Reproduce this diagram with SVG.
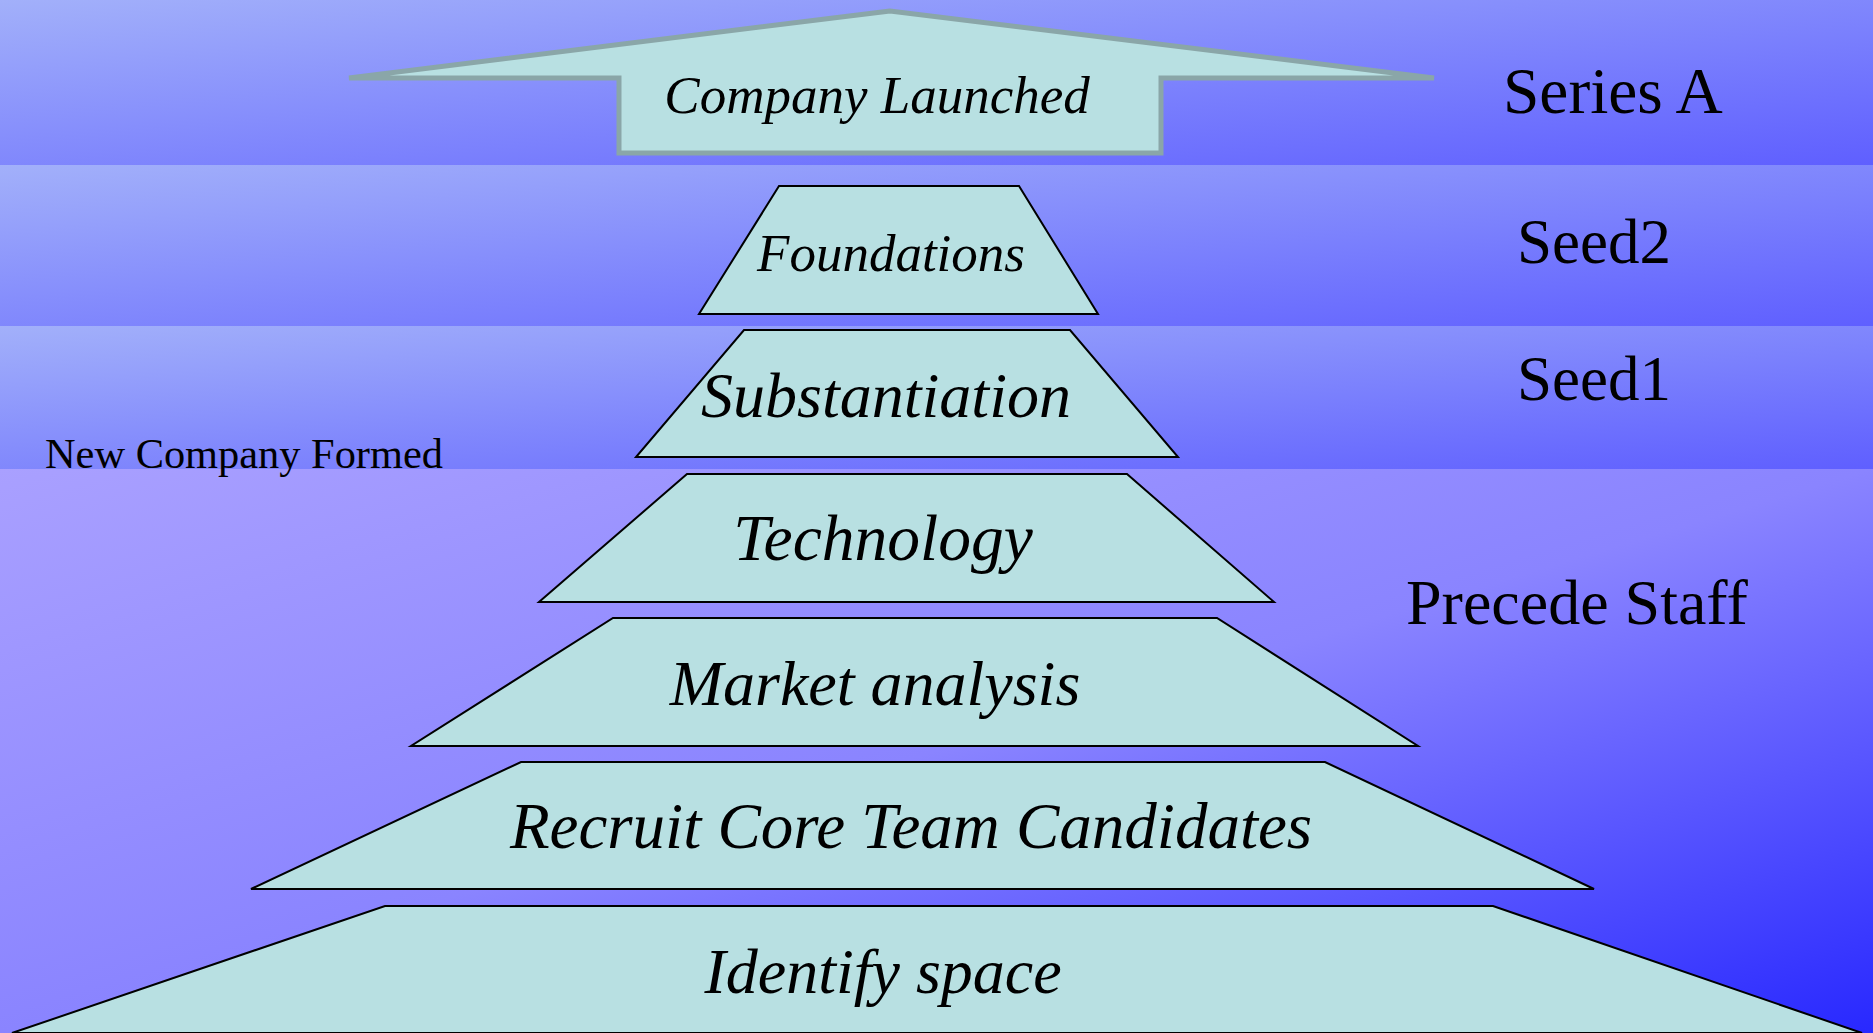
<svg xmlns="http://www.w3.org/2000/svg" width="1873" height="1033" viewBox="0 0 1873 1033">
<defs>
<linearGradient id="gBand" x1="0" y1="0" x2="1" y2="1">
<stop offset="0" stop-color="#A2B0FA"/>
<stop offset="1" stop-color="#5F5FFF"/>
</linearGradient>
<linearGradient id="gBig" x1="0" y1="0" x2="1" y2="1">
<stop offset="0" stop-color="#A9A0FF"/>
<stop offset="0.5" stop-color="#8A84FF"/>
<stop offset="1" stop-color="#2828FF"/>
</linearGradient>
<style>
.step{fill:#B8E0E2;stroke:#000;stroke-width:2;stroke-linejoin:miter}
.lbl{font-family:"Liberation Serif","Times New Roman",serif;font-style:italic;fill:#000;text-anchor:middle}
.side{font-family:"Liberation Serif","Times New Roman",serif;fill:#000}
</style>
</defs>
<g id="background">
<rect x="0" y="0" width="1873" height="165" fill="url(#gBand)"/>
<rect x="0" y="165" width="1873" height="161" fill="url(#gBand)"/>
<rect x="0" y="326" width="1873" height="143" fill="url(#gBand)"/>
<rect x="0" y="469" width="1873" height="564" fill="url(#gBig)"/>
</g>
<g id="connectors"></g>
<g id="company-launched">
<polygon points="890,11 349,78 619,78 619,153 1161,153 1161,78 1434,78" fill="#B8E0E2" stroke="#8AA6A8" stroke-width="5" stroke-linejoin="miter"/>
<text class="lbl" x="877" y="113" font-size="53">Company Launched</text>
</g>
<g id="foundations">
<polygon class="step" points="779,186 1019,186 1098,314 699,314"/>
<text class="lbl" x="891" y="271" font-size="53">Foundations</text>
</g>
<g id="substantiation">
<polygon class="step" points="744,330 1070,330 1178,457 636,457"/>
<text class="lbl" x="886" y="417" font-size="64">Substantiation</text>
</g>
<g id="technology">
<polygon class="step" points="687,474 1127,474 1274,602 539,602"/>
<text class="lbl" x="883" y="560" font-size="65.5">Technology</text>
</g>
<g id="market-analysis">
<polygon class="step" points="613,618 1217,618 1418,746 411,746"/>
<text class="lbl" x="875" y="705" font-size="64">Market analysis</text>
</g>
<g id="recruit">
<polygon class="step" points="521,762 1325,762 1594,889 251,889"/>
<text class="lbl" x="911" y="848" font-size="65">Recruit Core Team Candidates</text>
</g>
<g id="identify-space">
<polygon class="step" points="385,906 1493,906 1862,1033 12,1033"/>
<text class="lbl" x="883" y="993" font-size="64">Identify space</text>
</g>
<g id="stage-labels">
<text class="side" x="1503" y="113" font-size="65.4">Series A</text>
<text class="side" x="1517" y="263" font-size="63">Seed2</text>
<text class="side" x="1517" y="400" font-size="63">Seed1</text>
<text class="side" x="1406" y="624" font-size="64">Precede Staff</text>
<text class="side" x="45" y="468" font-size="42.4">New Company Formed</text>
</g>
</svg>
